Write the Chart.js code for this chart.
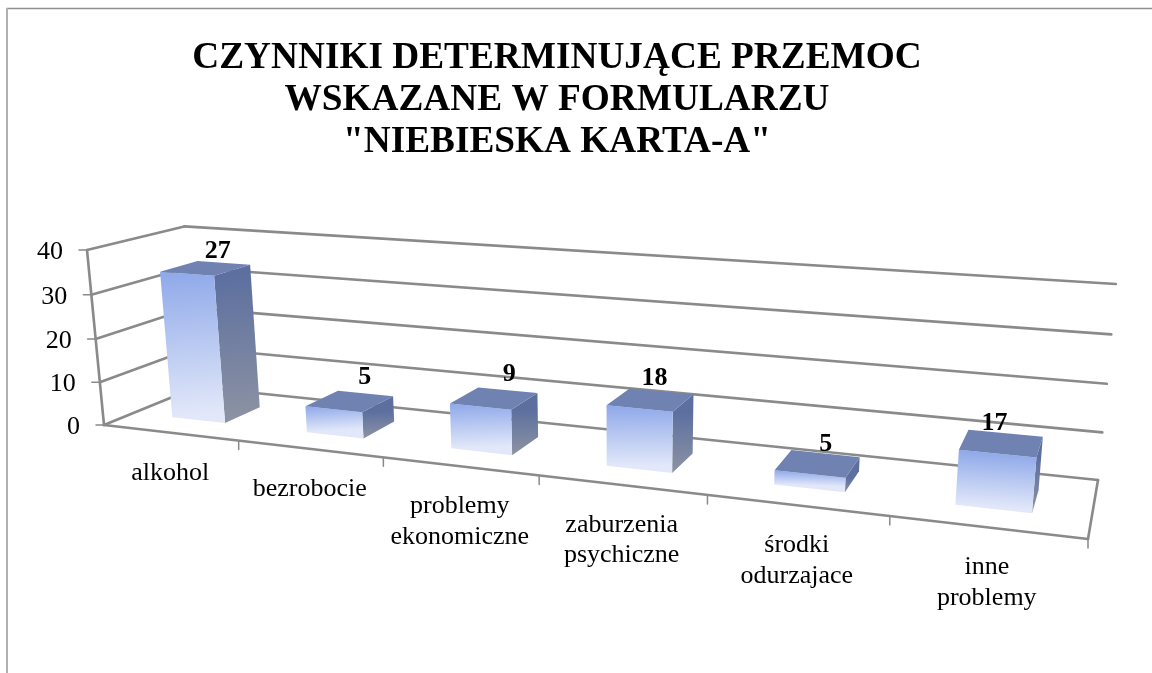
<!DOCTYPE html>
<html>
<head>
<meta charset="utf-8">
<script src="https://cdn.jsdelivr.net/npm/chart.js@4"></script>
<style>
    html, body { margin: 0; padding: 0; background: #fff; }
    canvas { display: block; }
</style>
</head>
<body>
<canvas id="chart-bars" width="1152" height="673"></canvas>
<script>
var titleLines = ["CZYNNIKI DETERMINUJĄCE PRZEMOC", "WSKAZANE W FORMULARZU", "\"NIEBIESKA KARTA-A\""];
var categories = [["alkohol"], ["bezrobocie"], ["problemy", "ekonomiczne"], ["zaburzenia", "psychiczne"], ["środki", "odurzajace"], ["inne", "problemy"]];
// heights read against the axis; the printed labels do not follow them in the original
var barValues = [34, 6, 10, 13, 3, 11];
var printedValues = [27, 5, 9, 18, 5, 17];
var yTicks = [0, 10, 20, 30, 40];

var serif = "'Liberation Serif', 'Times New Roman', serif";
var gridColor = "#8a8a8a";
var depthFront = 0.3, depthBack = 0.7;

// corners of the 3d plot box on the page, used to set up the perspective
var box = {
    floorFrontLeft: [104, 425], floorFrontRight: [1088, 539],
    floorBackRight: [1098, 480], floorBackLeft: [197, 387],
    topFrontLeft: [87, 250], topBackRight: [1115, 284]
};
// nudges of the printed labels, relative to the middle of each bar top
var printedShift = [[12, -17], [15, -24], [15, -24], [4, -21], [8, -19], [-7, -20]];

function makeProjection(b) {
    var p0 = b.floorFrontLeft, p1 = b.floorFrontRight, p2 = b.floorBackRight, p3 = b.floorBackLeft;
    var sx = p0[0] - p1[0] + p2[0] - p3[0], sy = p0[1] - p1[1] + p2[1] - p3[1];
    var dx1 = p1[0] - p2[0], dx2 = p3[0] - p2[0], dy1 = p1[1] - p2[1], dy2 = p3[1] - p2[1];
    var den = dx1 * dy2 - dx2 * dy1;
    var g = (sx * dy2 - dx2 * sy) / den;
    var h = (dx1 * sy - sx * dy1) / den;
    var ux = p1[0] * (1 + g) - p0[0], uy = p1[1] * (1 + g) - p0[1];
    var dx = p3[0] * (1 + h) - p0[0], dy = p3[1] * (1 + h) - p0[1];
    var t = b.topFrontLeft, r = b.topBackRight;
    // c comes out of the two top corners
    var c = (p0[1] + uy + dy + t[1] - p0[1] - r[1] * (1 + g + h)) / (r[1] - t[1]);
    var vx = t[0] * (1 + c) - p0[0], vy = t[1] * (1 + c) - p0[1];
    return function (u, d, v) {
        var w = 1 + g * u + h * d + c * v;
        return [(p0[0] + ux * u + dx * d + vx * v) / w, (p0[1] + uy * u + dy * d + vy * v) / w];
    };
}
var project = makeProjection(box);

function poly(ctx, pts, fill) {
    ctx.beginPath();
    ctx.moveTo(pts[0][0], pts[0][1]);
    for (var i = 1; i < pts.length; i++) ctx.lineTo(pts[i][0], pts[i][1]);
    ctx.closePath();
    ctx.fillStyle = fill;
    ctx.fill();
}

function segment(ctx, a, b) {
    ctx.beginPath();
    ctx.moveTo(a[0], a[1]);
    ctx.lineTo(b[0], b[1]);
    ctx.stroke();
}

function faceGradient(ctx, from, to, topColor, bottomColor) {
    var grad = ctx.createLinearGradient(from[0], from[1], to[0], to[1]);
    grad.addColorStop(0, topColor);
    grad.addColorStop(1, bottomColor);
    return grad;
}

var box3d = {
    id: "box3d",
    // the flat bars are replaced by the projected boxes below
    beforeDatasetsDraw: function () { return false; },
    afterDraw: function (chart) {
        var ctx = chart.ctx, area = chart.chartArea, xs = chart.scales.x, ys = chart.scales.y;
        function uOf(px) { return (px - area.left) / area.width; }
        function vOf(py) { return (area.bottom - py) / area.height; }

        ctx.save();
        // frame, open on the right and at the bottom
        ctx.strokeStyle = "#8f8f8f";
        ctx.lineWidth = 1.5;
        segment(ctx, [1152, 8.5], [6.5, 8.5]);
        ctx.strokeStyle = "#b0b0b0";
        ctx.lineWidth = 2;
        segment(ctx, [7, 8], [7, 673]);

        // walls
        ctx.strokeStyle = gridColor;
        ctx.lineWidth = 2.6;
        ctx.lineCap = "round";
        ctx.lineJoin = "round";
        ctx.font = "26px " + serif;
        ctx.textAlign = "right";
        ctx.textBaseline = "middle";
        ys.ticks.forEach(function (tick) {
            var v = vOf(ys.getPixelForValue(tick.value));
            var front = project(0, 0, v);
            segment(ctx, front, project(0, 1, v));
            segment(ctx, project(0, 1, v), project(1, 1, v));
            ctx.lineWidth = 1.5;
            segment(ctx, [front[0] - 8, front[1]], front);
            ctx.lineWidth = 2.6;
            ctx.fillStyle = "#000";
            ctx.fillText(tick.label, front[0] - 24, front[1] + 2);
        });
        segment(ctx, project(0, 0, 0), project(0, 0, 1));
        segment(ctx, project(0, 0, 0), project(1, 0, 0));
        segment(ctx, project(1, 0, 0), project(1, 1, 0));

        // ticks and category names along the front of the floor
        ctx.lineWidth = 1.5;
        ctx.textAlign = "center";
        ctx.textBaseline = "alphabetic";
        var catWidth = area.width / categories.length;
        categories.forEach(function (lines, i) {
            var center = uOf(xs.getPixelForValue(i));
            var edge = uOf(xs.getPixelForValue(i) + catWidth / 2);
            var base = project(edge, 0, 0);
            segment(ctx, base, [base[0], base[1] + 9]);
            var at = project(center, 0, 0);
            lines.forEach(function (line, k) {
                ctx.fillText(line, at[0], at[1] + 47 + k * 30.5);
            });
        });

        // bars, left to right
        var bars = chart.getDatasetMeta(0).data;
        bars.forEach(function (bar, i) {
            var u0 = uOf(bar.x - bar.width / 2), u1 = uOf(bar.x + bar.width / 2);
            var v = vOf(bar.y);
            var fbl = project(u0, depthFront, 0), fbr = project(u1, depthFront, 0);
            var ftl = project(u0, depthFront, v), ftr = project(u1, depthFront, v);
            var bbr = project(u1, depthBack, 0);
            var btr = project(u1, depthBack, v), btl = project(u0, depthBack, v);
            poly(ctx, [ftr, btr, bbr, fbr], faceGradient(ctx, ftr, fbr, "#5c6f9f", "#8d93a3"));
            poly(ctx, [ftl, fbl, fbr, ftr], faceGradient(ctx, ftl, fbl, "#8ea8e9", "#e2e8f9"));
            poly(ctx, [ftl, ftr, btr, btl], "#6f82b1");
        });

        // printed values on top
        ctx.font = "bold 26px " + serif;
        ctx.textBaseline = "middle";
        ctx.fillStyle = "#000";
        bars.forEach(function (bar, i) {
            var top = project(uOf(bar.x), (depthFront + depthBack) / 2, vOf(bar.y));
            ctx.fillText(String(printedValues[i]), top[0] + printedShift[i][0], top[1] + printedShift[i][1]);
        });
        ctx.restore();
    }
};

function load() {
    var ctx = document.getElementById("chart-bars");
    new Chart(ctx, {
        type: "bar",
        plugins: [box3d],
        data: {
            labels: categories,
            datasets: [{
                data: barValues,
                backgroundColor: "#8ea8e9",
                borderWidth: 0,
                categoryPercentage: 1,
                barPercentage: 0.4
            }]
        },
        options: {
            responsive: false,
            animation: false,
            layout: { padding: { right: 38 } },
            plugins: {
                legend: { display: false },
                tooltip: { enabled: false },
                title: {
                    display: true,
                    text: titleLines,
                    color: "#000",
                    font: { family: serif, size: 37.3, weight: "bold", lineHeight: 1.126 },
                    padding: { top: 37, bottom: 10 }
                }
            },
            scales: {
                x: { display: false },
                y: {
                    display: false,
                    min: 0,
                    max: 40,
                    afterBuildTicks: function (scale) {
                        scale.ticks = yTicks.map(function (t) { return { value: t, label: String(t) }; });
                    }
                }
            }
        }
    });
}
load();
</script>
</body>
</html>
